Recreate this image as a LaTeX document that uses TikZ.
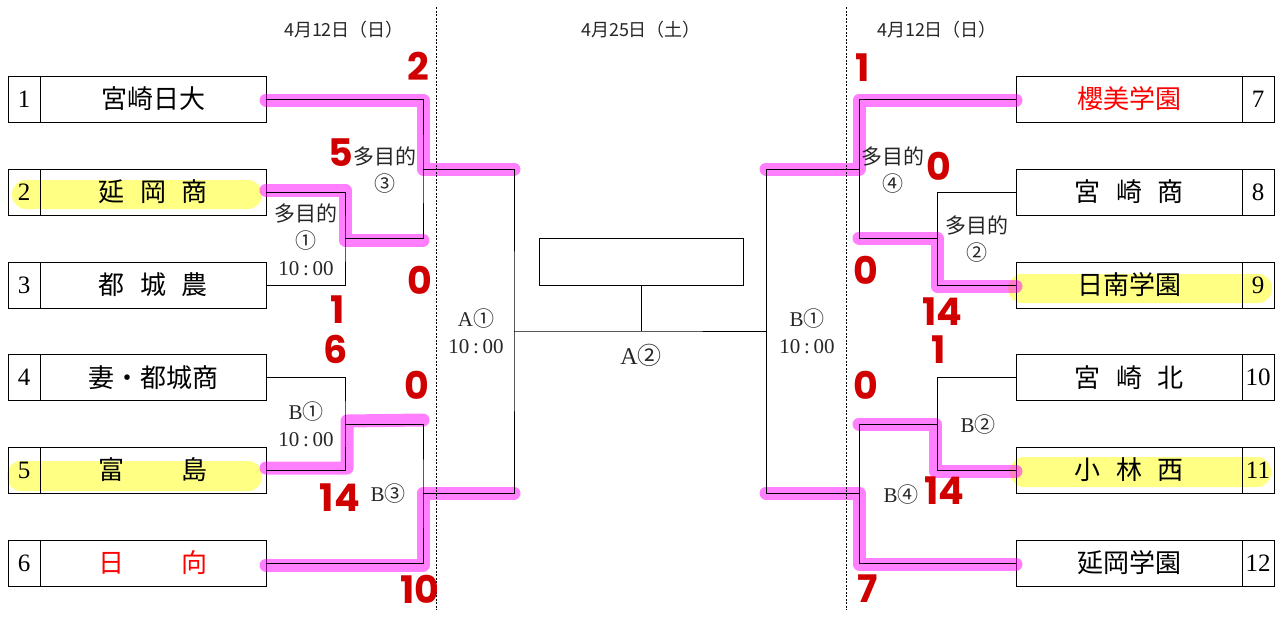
\documentclass[tikz,border=0pt]{standalone}
\usepackage{fontspec}
\setmainfont{Liberation Serif}
\newfontfamily\jp{Noto Sans CJK JP}
\newfontfamily\scorefont{Poppins}
\definecolor{scorered}{HTML}{D00000}
\definecolor{hlmag}{HTML}{FF00FF}
\definecolor{hlyel}{HTML}{FFFF30}
\newcommand{\tenam}{10\hspace{0.18em}:\hspace{0.18em}00}
\begin{document}
\begin{tikzpicture}[x=1pt,y=-1pt,
  numbox/.style={draw, line width=0.9pt, minimum width=32pt, minimum height=46pt, inner sep=0pt, font=\fontsize{25}{25}\selectfont},
  teambox/.style={draw, line width=0.9pt, minimum width=226pt, minimum height=46pt, inner sep=0pt, font=\jp\fontsize{26}{26}\selectfont},
  ln/.style={line width=0.8pt},
  hl/.style={draw=hlmag, draw opacity=0.5, line width=13pt, line cap=round, line join=round},
  yl/.style={fill=hlyel, fill opacity=0.6, rounded corners=14pt},
  score/.style={text=scorered, inner sep=0pt, font=\scorefont\bfseries\fontsize{38}{38}\selectfont},
  lbl/.style={align=center, inner sep=0pt, text=black!85, font=\fontsize{21}{27}\selectfont},
  datelbl/.style={inner sep=0pt, text=black!85, font=\jp\fontsize{18}{18}\selectfont},
  sep/.style={line width=0.6pt, dash pattern=on 2pt off 1.5pt}
]
\useasboundingbox (0,0) rectangle (1279,616);

% yellow highlights
\fill[yl] (12,180) rectangle (262,209);
\fill[yl] (7,461) rectangle (262,491);
\fill[yl] (1008,274) rectangle (1272,303);
\fill[yl] (1010,457) rectangle (1271,487);

% boxes left
\node[numbox] (n1) at (24,99) {1};
\node[teambox] (t1) at (153,99) {宮崎日大};
\node[numbox] (n2) at (24,192) {2};
\node[teambox] (t2) at (153,192) {延\hspace{0.6em}岡\hspace{0.6em}商};
\node[numbox] (n3) at (24,285) {3};
\node[teambox] (t3) at (153,285) {都\hspace{0.6em}城\hspace{0.6em}農};
\node[numbox] (n4) at (24,377.5) {4};
\node[teambox] (t4) at (153,377.5) {妻・都城商};
\node[numbox] (n5) at (24,470) {5};
\node[teambox] (t5) at (153,470) {富\hspace{2.2em}島};
\node[numbox] (n6) at (24,563) {6};
\node[teambox, text=red] (t6) at (153,563) {日\hspace{2.2em}向};

% boxes right
\node[teambox, text=red] (t7) at (1129,99) {櫻美学園};
\node[numbox] (n7) at (1258,99) {7};
\node[teambox] (t8) at (1129,192) {宮\hspace{0.6em}崎\hspace{0.6em}商};
\node[numbox] (n8) at (1258,192) {8};
\node[teambox] (t9) at (1129,285) {日南学園};
\node[numbox] (n9) at (1258,285) {9};
\node[teambox] (t10) at (1129,377.5) {宮\hspace{0.6em}崎\hspace{0.6em}北};
\node[numbox] (n10) at (1258,377.5) {10};
\node[teambox] (t11) at (1129,470) {小\hspace{0.6em}林\hspace{0.6em}西};
\node[numbox] (n11) at (1258,470) {11};
\node[teambox] (t12) at (1129,563) {延岡学園};
\node[numbox] (n12) at (1258,563) {12};

% final box
\node[draw, line width=0.9pt, minimum width=204pt, minimum height=47pt, inner sep=0pt] (fin) at (641,261.5) {};

% junction coordinates
\coordinate (m1) at (345,238.5);
\coordinate (m3) at (423,169);
\coordinate (b1) at (345,424);
\coordinate (b3) at (423,493.5);
\coordinate (a1) at (514,331);
\coordinate (a2) at (641,331);
\coordinate (r1) at (766,331);
\coordinate (m2) at (937,238.5);
\coordinate (m4) at (859,169);
\coordinate (b2) at (937,424);
\coordinate (b4) at (859,493.5);

% magenta highlights
\draw[hl] (266,100) -- (423,100) -- (423,169) -- (514,169);
\draw[hl] (266,190) -- (345,190) -- (345,240) -- (423,240);
\draw[hl] (266,468) -- (347,468) -- (347,421) -- (423,420);
\draw[hl] (266,565) -- (423,565) -- (423,493) -- (514,493);
\draw[hl] (1016,100) -- (859,100) -- (859,169) -- (766,169);
\draw[hl] (1016,286) -- (937,286) -- (937,238) -- (859,238);
\draw[hl] (1016,471) -- (935,471) -- (935,424) -- (859,424);
\draw[hl] (1016,564) -- (859,564) -- (859,493) -- (766,493);

% bracket lines left
\draw[ln] (t2.east) -| (m1) |- (t3.east);
\draw[ln] (t1.east) -| (m3) |- (m1);
\draw[ln] (t4.east) -| (b1) |- (t5.east);
\draw[ln] (t6.east) -| (b3) |- (b1);
\draw[ln] (m3) -| (a1) |- (b3);
\draw[ln] (a1) -- (a2) -- (r1);
\draw[ln] (fin.south) -- (a2);
% bracket lines right
\draw[ln] (t8.west) -| (m2) |- (t9.west);
\draw[ln] (t7.west) -| (m4) |- (m2);
\draw[ln] (t10.west) -| (b2) |- (t11.west);
\draw[ln] (t12.west) -| (b4) |- (b2);
\draw[ln] (m4) -| (r1) |- (b4);

% dashed separators
\coordinate (s1t) at (436,7); \coordinate (s1b) at (436,610);
\coordinate (s2t) at (846,7); \coordinate (s2b) at (846,610);
\draw[sep] (s1t) -- (s1b);
\draw[sep] (s2t) -- (s2b);

% dates
\node[datelbl] (d1) at (344,30) {4月12日（日）};
\node[datelbl] (d2) at (641,30) {4月25日（土）};
\node[datelbl] (d3) at (937,30) {4月12日（日）};

% match labels
\node[lbl] (l3) at (385,170) {{\jp 多目的}\\{\jp ③}};
\node[lbl] (l1) at (306,240) {{\jp 多目的}\\{\jp ①}\\\tenam};
\node[lbl] (lb1) at (306,424.5) {B{\jp ①}\\\tenam};
\node[lbl] (lb3) at (388,494) {B{\jp ③}};
\node[lbl] (la1) at (476,331.5) {A{\jp ①}\\\tenam};
\node[lbl, font=\fontsize{24}{27}\selectfont] (la2) at (641,355) {A{\jp ②}};
\node[lbl] (rb1) at (807,331.5) {B{\jp ①}\\\tenam};
\node[lbl] (l4) at (893,170) {{\jp 多目的}\\{\jp ④}};
\node[lbl] (l2) at (977,239) {{\jp 多目的}\\{\jp ②}};
\node[lbl] (lb2) at (978,425) {B{\jp ②}};
\node[lbl] (lb4) at (901,495) {B{\jp ④}};

% scores
\node[score] (s1) at (418,66) {2};
\node[score] (s2) at (341,153) {5};
\node[score] (s3) at (420,280) {0};
\node[score] (s4) at (338,310) {1};
\node[score] (s5) at (336,349) {6};
\node[score] (s6) at (417,385) {0};
\node[score] (s7) at (340,498) {14};
\node[score] (s8) at (420,589) {10};
\node[score] (s9) at (863,68) {1};
\node[score] (s10) at (939,166) {0};
\node[score] (s11) at (866,270) {0};
\node[score] (s12) at (942,312) {14};
\node[score] (s13) at (939,350) {1};
\node[score] (s14) at (866,385) {0};
\node[score] (s15) at (944,491) {14};
\node[score] (s16) at (868,589) {7};
\end{tikzpicture}
\end{document}
